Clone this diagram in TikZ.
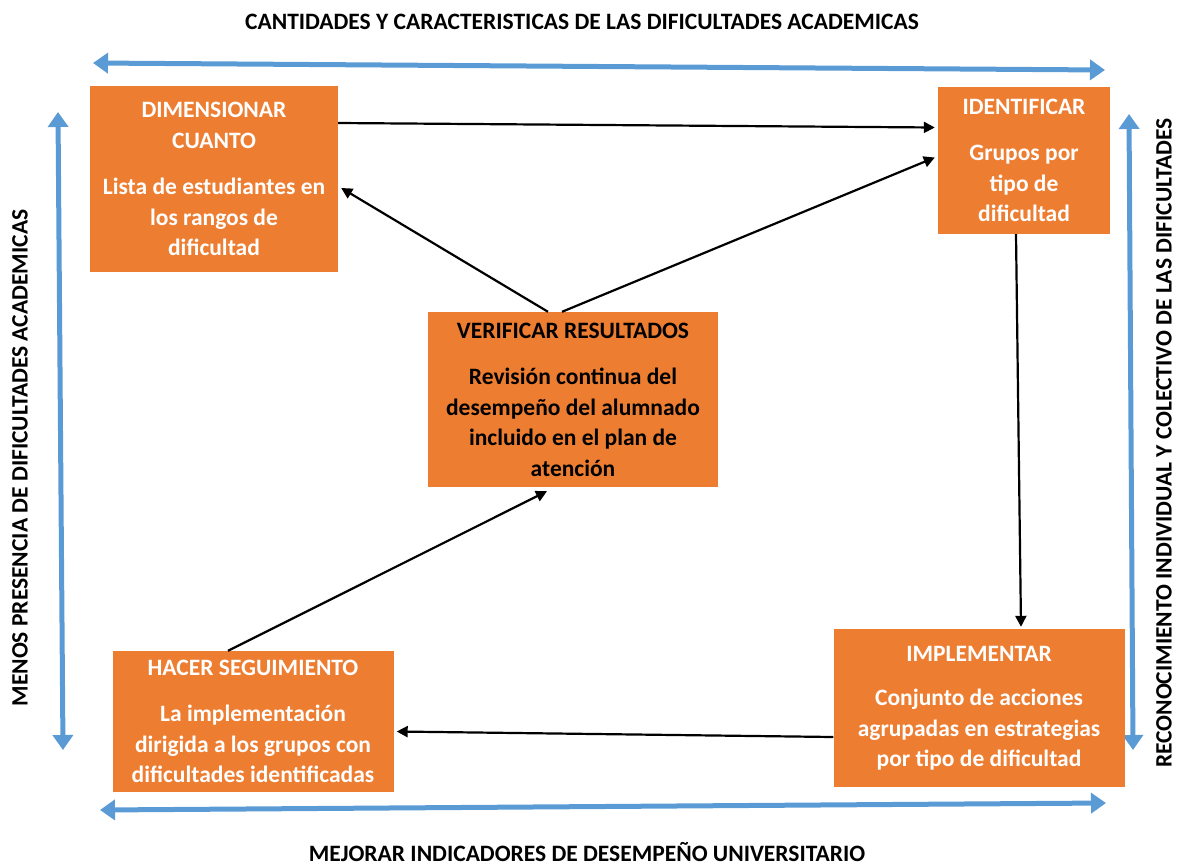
\documentclass[tikz,border=0pt]{standalone}
\usepackage{fontspec}
\setmainfont{Carlito}
\usetikzlibrary{arrows.meta}

\definecolor{boxorange}{HTML}{ED7D31}
\definecolor{axisblue}{HTML}{5B9BD5}
\newcommand{\diagfont}{\bfseries\fontsize{23.5}{30.5}\selectfont}

\tikzset{
    box/.style={fill=boxorange, text=white, font=\diagfont, align=center, inner sep=0pt},
    flow/.style={-{Triangle[length=11pt,width=11pt]}, line width=2.2pt, black},
    axis/.style={{Triangle[length=15pt,width=20pt]}-{Triangle[length=15pt,width=20pt]}, line width=5pt, axisblue},
    axislabel/.style={font=\diagfont, text=black, inner sep=0pt}
}

\begin{document}
\begin{tikzpicture}[x=1pt, y=-1pt]
    \useasboundingbox (0,0) rectangle (1177,865);

    % Axis labels
    \node[axislabel] (toplbl) at (582,22) {CANTIDADES Y CARACTERISTICAS DE LAS DIFICULTADES ACADEMICAS};
    \node[axislabel] (botlbl) at (587,852) {MEJORAR INDICADORES DE DESEMPEÑO UNIVERSITARIO};
    \node[axislabel, rotate=90] (leftlbl) at (20,458) {MENOS PRESENCIA DE DIFICULTADES ACADEMICAS};
    \node[axislabel, rotate=90] (rightlbl) at (1164,443) {RECONOCIMIENTO INDIVIDUAL Y COLECTIVO DE LAS DIFICULTADES};

    % Blue axes
    \draw[axis] (93,63) -- (1105,70);
    \draw[axis] (100,810) -- (1106,803);
    \draw[axis] (58,112) -- (63,750);
    \draw[axis] (1129,114) -- (1133,750);

    % Boxes
    \node[box, minimum width=248, minimum height=186] (dim) at (214,179)
        {DIMENSIONAR\\CUANTO\\[16pt]Lista de estudiantes en\\los rangos de\\dificultad};
    \node[box, minimum width=172, minimum height=147] (ide) at (1024,160.5)
        {IDENTIFICAR\\[16pt]Grupos por\\tipo de\\dificultad};
    \node[box, text=black, minimum width=290, minimum height=175] (ver) at (573,399.5)
        {VERIFICAR RESULTADOS\\[16pt]Revisión continua del\\desempeño del alumnado\\incluido en el plan de\\atención};
    \node[box, minimum width=291, minimum height=158] (imp) at (979,708)
        {IMPLEMENTAR\\[14pt]Conjunto de acciones\\agrupadas en estrategias\\por tipo de dificultad};
    \node[box, minimum width=281, minimum height=141] (hac) at (253,721.5)
        {HACER SEGUIMIENTO\\[16pt]La implementación\\dirigida a los grupos con\\dificultades identificadas};

    % Cycle
    \draw[flow] ([yshift=56pt]dim.east) -- ([yshift=33pt,xshift=-3pt]ide.west);
    \draw[flow] ([xshift=-25pt]ver.north) -- ([yshift=-9pt,xshift=3pt]dim.east);
    \draw[flow] ([xshift=-11pt]ver.north) -- ([yshift=3pt,xshift=-3pt]ide.west);
    \draw[flow] ([xshift=-8pt]ide.south) -- ([xshift=42pt,yshift=2pt]imp.north);
    \draw[flow] ([yshift=-29pt]imp.west) -- ([yshift=-10pt,xshift=3pt]hac.east);
    \draw[flow] ([xshift=-25pt]hac.north) -- ([xshift=-26pt,yshift=-4pt]ver.south);
\end{tikzpicture}
\end{document}
